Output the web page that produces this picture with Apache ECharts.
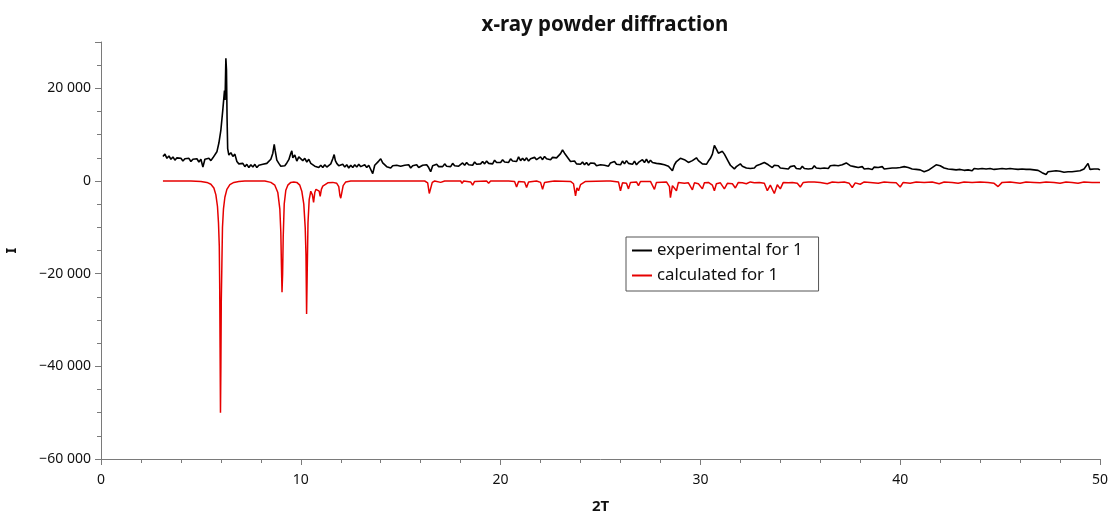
<!DOCTYPE html>
<html>
<head>
<meta charset="utf-8">
<script src="https://cdn.jsdelivr.net/npm/echarts@6/dist/echarts.min.js"></script>
<style>html,body{margin:0;padding:0;background:#fff}#c{width:1112px;height:516px}</style>
</head>
<body>
<div id="c"></div>
<script>
const seriesNames = ['experimental for 1', 'calculated for 1'];
// experimental pattern: [2T, I]
const expPoints = [
[3.1,5300],[3.2,5800],[3.3,4900],[3.4,5400],[3.5,4700],[3.6,5200],[3.7,4500],[3.8,5000],[3.9,4600],[4.0,4900],
[4.1,4300],[4.2,4800],[4.3,4400],[4.4,4900],[4.5,4200],[4.6,4700],[4.7,4500],[4.8,4800],[4.9,4100],[5.0,4700],
[5.1,3000],[5.2,4700],[5.3,4300],[5.4,4900],[5.5,4400],[5.6,5000],[5.7,5300],
[5.8,6300],[5.9,8200],[6.0,11000],[6.1,15500],[6.18,19500],[6.21,17500],[6.25,26500],[6.28,24000],[6.31,13500],[6.34,7000],
[6.4,5600],[6.5,6100],[6.6,5300],[6.7,5800],[6.8,4200],[6.9,3700],[7.0,3300],
[7.1,3800],[7.2,3100],[7.3,3600],[7.4,2900],[7.5,3500],[7.6,3000],[7.7,3600],[7.8,2900],[7.9,3400],[8.0,3000],
[8.1,3600],[8.2,3200],[8.3,3800],[8.4,4000],[8.5,4700],[8.6,6000],[8.67,7900],[8.72,6500],[8.8,4500],[8.9,3800],[9.0,3200],
[9.1,3500],[9.2,3300],[9.3,3900],[9.4,4600],[9.5,6000],[9.55,6500],[9.6,5000],[9.7,5600],[9.8,4300],[9.9,5200],[10.0,5500],
[10.1,4400],[10.2,4900],[10.3,4100],[10.4,4700],[10.5,3800],[10.6,4000],[10.7,3200],[10.8,3600],[10.9,2900],[11.0,3400],
[11.1,2900],[11.2,3500],[11.3,3000],[11.4,3400],[11.5,3700],[11.6,4800],[11.67,5700],[11.73,4400],[11.8,3800],[11.9,3300],[12.0,3000],
[12.1,3600],[12.2,3000],[12.3,3500],[12.4,2800],[12.5,3400],[12.6,2900],[12.7,3500],[12.8,3000],[12.9,3600],[13.0,3100],
[13.1,2900],[13.2,3500],[13.3,2900],[13.4,3400],[13.5,3000],[13.6,1600],[13.7,3400],[13.8,3700],[13.9,4300],[14.0,4800],
[14.1,3900],[14.2,3500],[14.3,3100],[14.4,3400],[14.5,2800],[14.6,3300],[14.7,2900],[14.8,3400],[14.9,3000],[15.0,3200],
[15.1,2800],[15.2,3400],[15.3,3000],[15.4,3500],[15.5,2800],[15.6,3300],[15.7,3000],[15.8,3500],[15.9,2900],[16.0,3200],
[16.1,3400],[16.2,3000],[16.3,3500],[16.4,2900],[16.5,2000],[16.6,3300],[16.7,3000],[16.8,3600],[16.9,3100],[17.0,3500],
[17.1,3100],[17.2,3700],[17.3,3200],[17.4,3600],[17.5,3100],[17.6,3800],[17.7,3300],[17.8,3700],[17.9,3200],[18.0,3500],
[18.1,3900],[18.2,3400],[18.3,4000],[18.4,3500],[18.5,3900],[18.6,3400],[18.7,4100],[18.8,3600],[18.9,4000],[19.0,3700],
[19.1,4200],[19.2,3700],[19.3,4300],[19.4,3800],[19.5,4100],[19.6,3700],[19.7,4500],[19.8,4000],[19.9,4300],[20.0,4000],
[20.1,4600],[20.2,4100],[20.3,4500],[20.4,4000],[20.5,4800],[20.6,4300],[20.7,4700],[20.8,4200],[20.9,5200],[21.0,4400],
[21.1,4900],[21.2,4400],[21.3,5000],[21.4,4300],[21.5,4800],[21.6,4500],[21.7,5100],[21.8,4600],[21.9,4900],[22.0,5200],
[22.1,4600],[22.2,5300],[22.3,4800],[22.4,5000],[22.5,4600],[22.6,5100],[22.7,4700],[22.8,5000],[22.9,4900],[23.0,5900],
[23.1,6700],[23.2,6000],[23.3,6300],[23.4,4800],[23.5,4200],[23.6,3800],[23.7,4300],[23.8,3700],[23.9,4000],[24.0,3600],
[24.1,4100],[24.2,3500],[24.3,4000],[24.4,3400],[24.5,3900],[24.6,3500],[24.7,3800],[24.8,3300],[24.9,3700],[25.0,3500],
[25.1,3900],[25.2,3400],[25.3,3800],[25.4,3200],[25.5,3900],[25.6,3500],[25.7,4200],[25.8,3600],[25.9,4000],[26.0,3500],
[26.1,4300],[26.2,3700],[26.3,4400],[26.4,3800],[26.5,4200],[26.6,3600],[26.7,4300],[26.8,3500],[26.9,4000],[27.0,4200],
[27.1,4600],[27.2,4000],[27.3,4700],[27.4,3900],[27.5,4500],[27.6,4000],[27.7,4300],[27.8,3800],[27.9,4200],[28.0,3700],
[28.1,4100],[28.2,3500],[28.3,3800],[28.4,3200],[28.5,2800],[28.6,2200],[28.7,3500],[28.8,4200],[28.9,4600],[29.0,4900],
[29.1,5100],[29.2,4600],[29.3,4400],[29.4,4000],[29.5,3800],[29.6,4400],[29.7,4800],[29.8,5000],[29.9,4400],[30.0,4000],
[30.1,3700],[30.2,3900],[30.3,3600],[30.4,4300],[30.5,4900],[30.6,5800],[30.7,7700],[30.8,6900],[30.9,6000],[31.0,5600],
[31.1,6400],[31.2,5800],[31.3,5000],[31.4,4200],[31.5,3400],[31.6,3000],[31.7,2600],[31.8,3100],[31.9,3500],[32.0,3700],
[32.1,3200],[32.2,3500],[32.3,2800],[32.4,3200],[32.5,2700],[32.6,3100],[32.7,2800],[32.8,3300],[32.9,3100],[33.0,3600],
[33.1,3900],[33.2,4000],[33.3,4300],[33.4,3500],[33.5,3200],[33.6,2900],[33.7,3400],[33.8,3000],[33.9,3300],[34.0,2800],
[34.1,3200],[34.2,2700],[34.3,3100],[34.4,2600],[34.5,3100],[34.6,2800],[34.7,3300],[34.8,2700],[34.9,3000],[35.0,2600],
[35.1,3200],[35.2,2700],[35.3,3100],[35.4,2600],[35.5,3000],[35.6,2700],[35.7,3300],[35.8,2800],[35.9,3200],[36.0,2700],
[36.1,3100],[36.2,2800],[36.3,3200],[36.4,2700],[36.5,3300],[36.6,2900],[36.7,3400],[36.8,3000],[36.9,3300],[37.0,3100],
[37.1,3500],[37.2,3700],[37.3,3900],[37.4,3500],[37.5,3300],[37.6,3000],[37.7,3100],[37.8,2700],[37.9,2900],[38.0,2600],
[38.1,3100],[38.2,2600],[38.3,3000],[38.4,2700],[38.5,2900],[38.6,2500],[38.7,3000],[38.8,2600],[38.9,2900],[39.0,2700],
[39.1,3100],[39.2,2600],[39.3,3000],[39.4,2700],[39.5,3100],[39.6,2800],[39.7,3200],[39.8,2800],[39.9,3100],[40.0,2900],
[40.1,3200],[40.2,3100],[40.3,3300],[40.4,2900],[40.5,3000],[40.6,2600],[40.7,2800],[40.8,2500],[40.9,2600],[41.0,2400],
[41.1,2500],[41.2,2000],[41.3,1600],[41.4,2300],[41.5,2400],[41.6,2900],[41.7,3100],[41.8,3500],[41.9,3600],[42.0,3300],
[42.1,3100],[42.2,2800],[42.3,3000],[42.4,2600],[42.5,2900],[42.6,2500],[42.7,2800],[42.8,2400],[42.9,2700],[43.0,2500],
[43.1,2800],[43.2,2300],[43.3,2700],[43.4,2400],[43.5,2600],[43.6,2200],[43.7,2700],[43.8,2300],[43.9,2600],[44.0,2400],
[44.1,2700],[44.2,2300],[44.3,2600],[44.4,2200],[44.5,2700],[44.6,2400],[44.7,2500],[44.8,2200],[44.9,2600],[45.0,2300],
[45.1,2700],[45.2,2300],[45.3,2600],[45.4,2200],[45.5,2700],[45.6,2400],[45.7,2600],[45.8,2200],[45.9,2500],[46.0,2300],
[46.1,2600],[46.2,2200],[46.3,2500],[46.4,2100],[46.5,2500],[46.6,2200],[46.7,2400],[46.8,2000],[46.9,2300],[47.0,2100],
[47.1,1800],[47.2,1600],[47.3,1400],[47.4,2000],[47.5,1700],[47.6,2100],[47.7,1800],[47.8,2200],[47.9,1900],[48.0,2100],
[48.1,2300],[48.2,1900],[48.3,2300],[48.4,2000],[48.5,2400],[48.6,2000],[48.7,2300],[48.8,2100],[48.9,2500],[49.0,2200],
[49.1,2400],[49.2,2600],[49.3,2300],[49.4,3800],[49.5,2500],[49.6,2200],[49.7,2600],[49.8,2300],[49.9,2600],[50.0,2400]
];
// calculated pattern (plotted downward): [2T, I]
const calcPoints = [
[3.1,0],[4.5,0],[5.0,-100],[5.3,-300],[5.5,-700],[5.65,-1500],[5.75,-3000],[5.83,-5500],[5.88,-9000],[5.92,-14000],[5.94,-22000],[5.96,-36000],[5.98,-50000],[6.0,-40000],[6.02,-26000],[6.05,-18000],[6.08,-10000],[6.13,-6000],[6.2,-3500],[6.3,-1800],[6.45,-800],[6.65,-300],[6.9,-100],[7.2,0],
[8.2,0],[8.5,-300],[8.7,-900],[8.85,-2500],[8.95,-6000],[9.0,-11000],[9.03,-18000],[9.06,-24000],[9.09,-20000],[9.12,-12000],[9.17,-5000],[9.25,-2000],[9.35,-900],[9.5,-300],[9.65,-200],[9.8,-300],[9.95,-900],
[10.05,-2200],[10.15,-5000],[10.22,-10000],[10.26,-16000],[10.29,-28700],[10.32,-20000],[10.36,-9000],[10.42,-4000],[10.5,-2200],[10.58,-3000],[10.64,-4600],[10.7,-2500],[10.76,-1800],[10.8,-2200],[10.86,-1500],[10.92,-2200],[10.97,-3300],[11.03,-1800],[11.1,-1100],[11.2,-700],[11.35,-400],[11.6,-300],[11.8,-500],[11.9,-1200],[11.96,-3200],[12.0,-3700],[12.05,-3300],[12.12,-1000],[12.25,-200],[12.5,0],
[16.2,0],[16.35,-400],[16.43,-2700],[16.5,-2500],[16.58,-300],[16.7,0],[17.0,-300],[17.2,0],[18.0,0],[18.07,-500],[18.15,0],[18.5,-200],[18.6,-900],[18.7,-100],[19.3,0],[19.4,-500],[19.5,0],
[20.2,0],[20.3,-400],[20.4,0],[20.7,-100],[20.8,-1300],[20.9,-100],[21.2,-200],[21.3,-1400],[21.4,-200],[21.8,0],[22.0,-300],[22.1,-1800],[22.2,-300],[22.5,-100],[22.6,-500],[22.7,0],
[23.5,-100],[23.65,-600],[23.75,-3200],[23.82,-1500],[23.9,-2100],[24.0,-800],[24.1,-1000],[24.25,-100],[25.3,0],[25.4,-400],[25.5,0],[25.9,-200],[26.0,-2100],[26.1,-400],[26.3,-500],[26.4,-1700],[26.5,-300],[26.8,-200],[26.9,-1000],[27.0,-100],
[27.5,-100],[27.6,-400],[27.7,-1800],[27.8,-300],[28.3,-200],[28.45,-1200],[28.5,-3600],[28.6,-1000],[28.8,-2100],[28.9,-300],[29.2,-500],[29.4,-400],[29.6,-1900],[29.7,-400],[29.9,-600],[30.1,-1700],[30.2,-400],[30.4,-300],[30.6,-900],[30.7,-2100],[30.8,-600],
[31.0,-400],[31.2,-1700],[31.35,-500],[31.6,-600],[31.75,-1500],[31.9,-300],[32.1,-400],[32.3,-600],[32.5,-200],[32.7,-400],[32.8,-700],[32.95,-300],[33.2,-500],[33.35,-2100],[33.5,-900],[33.7,-2700],[33.85,-800],[34.0,-1700],[34.15,-300],[34.4,-400],[34.6,-300],[34.85,-500],[35.0,-1300],[35.15,-300],[35.4,-200],[35.5,-500],[35.7,-200],
[36.0,-300],[36.35,-600],[36.6,-200],[36.9,-300],[37.2,-200],[37.45,-500],[37.6,-1400],[37.75,-400],[38.0,-700],[38.2,-200],[38.5,-300],[38.9,-500],[39.2,-200],[39.5,-300],[39.8,-400],[40.0,-1300],[40.15,-300],[40.5,-500],[40.8,-200],
[41.2,-300],[41.6,-200],[41.95,-600],[42.2,-200],[42.6,-300],[42.9,-500],[43.2,-200],[43.6,-300],[44.0,-200],[44.4,-300],[44.7,-500],[44.9,-1200],[45.1,-300],[45.5,-200],[46.0,-500],[46.3,-200],[46.7,-300],[47.0,-400],[47.3,-200],[47.7,-300],[48.0,-500],[48.3,-200],[48.6,-300],[48.9,-500],[49.2,-200],[49.6,-300],[50.0,-300]
];

const fmt = v => (v < 0 ? '\u2212' : '') + String(Math.abs(v)).replace(/\B(?=(\d{3})+(?!\d))/g, ' ');
const FONT = 'Noto Sans';
const axisGray = '#7a7a7a';

const chart = echarts.init(document.getElementById('c'), null, {renderer: 'canvas'});
chart.setOption({
  animation: false,
  backgroundColor: '#fff',
  title: {
    text: 'x-ray powder diffraction',
    left: 600, top: 10, textAlign: 'center',
    textStyle: {fontFamily: FONT, fontSize: 20.5, fontWeight: 'bold', color: '#111'}
  },
  legend: {
    orient: 'vertical',
    left: 626, top: 237,
    data: seriesNames,
    icon: 'rect', itemWidth: 20, itemHeight: 2, itemGap: 8,
    backgroundColor: '#fff', borderColor: '#555', borderWidth: 1,
    padding: [5, 16, 7, 6],
    textStyle: {fontFamily: FONT, fontSize: 16.8, color: '#111', lineHeight: 16}
  },
  grid: {left: 101, right: 12, top: 42, bottom: 57, containLabel: false, outerBoundsMode: 'none'},
  xAxis: {
    type: 'value', min: 0, max: 50, interval: 10,
    name: '2T', nameLocation: 'middle', nameGap: 40,
    nameTextStyle: {fontFamily: FONT, fontSize: 15, fontWeight: 'bold', color: '#111'},
    axisLine: {show: true, onZero: false, lineStyle: {color: axisGray}},
    axisTick: {show: true, length: 6, lineStyle: {color: axisGray}},
    minorTick: {show: true, splitNumber: 5, length: 4, lineStyle: {color: axisGray}},
    splitLine: {show: false},
    axisLabel: {fontFamily: FONT, fontSize: 14, color: '#111', margin: 14}
  },
  yAxis: {
    type: 'value', min: -60000, max: 30000, interval: 20000,
    name: 'I', nameLocation: 'middle', nameGap: 82, nameRotate: 90,
    nameTextStyle: {fontFamily: FONT, fontSize: 15, fontWeight: 'bold', color: '#111'},
    axisLine: {show: true, onZero: false, lineStyle: {color: axisGray}},
    axisTick: {show: true, length: 6, lineStyle: {color: axisGray}},
    minorTick: {show: true, splitNumber: 4, length: 4, lineStyle: {color: axisGray}},
    splitLine: {show: false},
    axisLabel: {fontFamily: FONT, fontSize: 14, color: '#111', margin: 10, showMaxLabel: false, formatter: fmt}
  },
  series: [
    {
      name: seriesNames[0], type: 'line', data: expPoints,
      showSymbol: false, symbol: 'none', color: '#000',
      lineStyle: {color: '#000', width: 1.6}, z: 3
    },
    {
      name: seriesNames[1], type: 'line', data: calcPoints,
      showSymbol: false, symbol: 'none', color: '#e60000',
      lineStyle: {color: '#e60000', width: 1.5}, z: 2
    }
  ]
});
</script>
</body>
</html>
